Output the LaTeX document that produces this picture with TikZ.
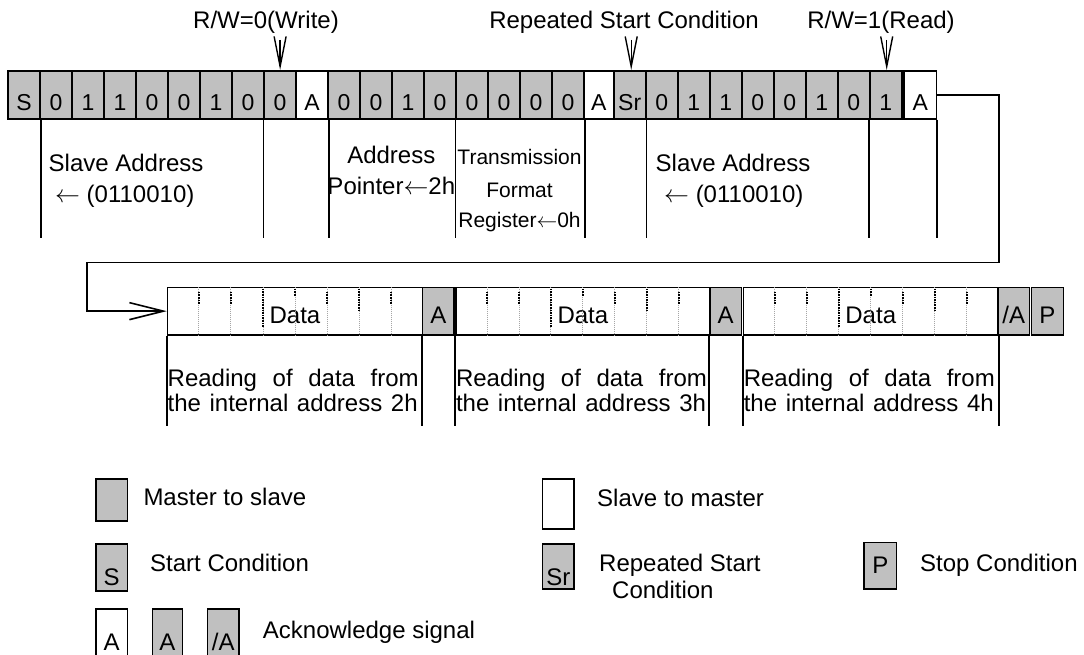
\documentclass[tikz,border=0pt]{standalone}
\usepackage{fontspec}
\setmainfont{Liberation Sans}
\usetikzlibrary{arrows.meta,calc}
\definecolor{boxgray}{RGB}{192,192,192}
\newcommand\cellfont{\fontsize{23}{26}\selectfont}
\newcommand\lblfont{\fontsize{24}{28}\selectfont}
\newcommand\smlfont{\fontsize{21}{24}\selectfont}
\newcommand\larr{$\leftarrow$}
\begin{document}
\begin{tikzpicture}[x=1pt,y=-1pt,
  cell/.style={draw, line width=1.6pt, inner sep=0pt, anchor=north west, text depth=0pt},
  rowone/.style={minimum height=48pt, text height=32pt, font=\cellfont},
  rowtwo/.style={minimum height=47.3pt, text height=25.3pt, font=\lblfont},
  lgcell/.style={cell, font=\lblfont},
  lbl/.style={inner sep=0pt, font=\lblfont},
  sml/.style={inner sep=0pt, font=\smlfont},
  sep/.style={line width=1.6pt},
  rwarrow/.style={line width=1.4pt, -{Straight Barb[length=30pt,width=12pt]}},
  conn/.style={line width=1.6pt, -{Straight Barb[length=34pt,width=17pt]}},
  divg/.style={draw=black!35, line width=0.8pt, dash pattern=on 0.8pt off 1.2pt},
  divb/.style={draw=black, line width=1.8pt, dash pattern=on 1.6pt off 1pt}
]
\useasboundingbox (0,0) rectangle (1084,655);

% ---- first row ----
\foreach \k/\xx/\w/\lab/\f in {
  0/7.3/32/S/boxgray, 1/39.3/32/0/boxgray, 2/71.3/32/1/boxgray, 3/103.3/32/1/boxgray,
  4/135.3/32/0/boxgray, 5/167.3/32/0/boxgray, 6/199.3/32/1/boxgray, 7/231.3/32/0/boxgray,
  8/263.3/32/0/boxgray, 9/295.3/32/A/white, 10/327.3/32/0/boxgray, 11/359.3/32/0/boxgray,
  12/391.3/32/1/boxgray, 13/423.3/32/0/boxgray, 14/455.3/32/0/boxgray, 15/487.3/32/0/boxgray,
  16/519.3/32/0/boxgray, 17/551.3/32/0/boxgray, 18/583.3/29.6/A/white, 19/612.9/32/Sr/boxgray,
  20/644.9/32/0/boxgray, 21/676.9/32/1/boxgray, 22/708.9/32/1/boxgray, 23/740.9/32/0/boxgray,
  24/772.9/32/0/boxgray, 25/804.9/32/1/boxgray, 26/836.9/32/0/boxgray, 27/868.9/32/1/boxgray,
  28/903.3/32.3/A/white}
  \node[cell, rowone, fill=\f, minimum width=\w pt] (b\k) at (\xx,70) {\lab};

% labels above
\node[lbl, anchor=base] (lw) at (266,29) {R/W=0(Write)};
\node[lbl, anchor=base] (lsr) at (624,29) {Repeated Start Condition};
\node[lbl, anchor=base] (lr) at (881,29) {R/W=1(Read)};
\draw[rwarrow] ([yshift=30pt]b8.north) -- (b8.north);
\draw[rwarrow] ([yshift=30pt,xshift=1.5pt]b19.north) -- ([xshift=1.5pt]b19.north);
\draw[rwarrow] ([yshift=30pt,xshift=1pt]b27.north) -- ([xshift=1pt]b27.north);

% separators below first row
\coordinate (r1b) at (0,238.3);
\foreach \a in {b0.south east, b8.south west, b9.south east, b14.south west,
                b17.south east, b19.south east, b27.south west, b28.south east}
  \draw[sep] (\a) -- (\a |- r1b);

% texts below first row
\node[lbl, anchor=base west] (sa1) at (48.5,172) {Slave Address};
\node[lbl, anchor=base west] (sa1b) at (55,203) {\larr\ (0110010)};
\node[lbl, anchor=base] (ap1) at (391.3,163.3) {Address};
\node[lbl, anchor=base] (ap2) at (391.3,195) {Pointer\larr2h};
\node[sml, anchor=base] (tf1) at (519.5,165) {Transmission};
\node[sml, anchor=base] (tf2) at (519.5,197) {Format};
\node[sml, anchor=base] (tf3) at (519.5,228) {Register\larr0h};
\node[lbl, anchor=base west] (sa2) at (655.5,172) {Slave Address};
\node[lbl, anchor=base west] (sa2b) at (664,203) {\larr\ (0110010)};

% ---- second row ----
\node[cell, rowtwo, fill=white, minimum width=255pt] (d1) at (166.7,286.7) {Data\hspace{6pt}};
\node[cell, rowtwo, fill=boxgray, minimum width=31.6pt] (a1) at (421.7,286.7) {A};
\node[cell, rowtwo, fill=white, minimum width=254.1pt] (d2) at (455,286.7) {Data\hspace{6pt}};
\node[cell, rowtwo, fill=boxgray, minimum width=31.4pt] (a2) at (709.1,286.7) {A};
\node[cell, rowtwo, fill=white, minimum width=254.3pt] (d3) at (742.8,286.7) {Data\hspace{6pt}};
\node[cell, rowtwo, fill=boxgray, minimum width=31.7pt] (na) at (997.1,286.7) {/A};
\node[cell, rowtwo, fill=boxgray, minimum width=32.3pt] (p) at (1030.5,286.7) {P};

% bit dividers inside data boxes
\foreach \d in {d1,d2,d3}{
  \foreach \i/\s/\e in {1/5/18, 2/5/18, 3/2/40, 4/2/9, 5/5/18, 6/2/24, 7/5/18}{
    \draw[divg] ($(\d.north west)!\i/8!(\d.north east)$) -- ($(\d.south west)!\i/8!(\d.south east)$);
    \draw[divb] ($(\d.north west)!\i/8!(\d.north east)+(0,\s)$) -- ($(\d.north west)!\i/8!(\d.north east)+(0,\e)$);
  }
}

% connector from first row to second row
\coordinate (t1) at (999,262.5);
\coordinate (t2) at (86.7,262.5);
\draw[conn] (b28.east) -| (t1) -- (t2) |- (d1.west);

% separators below second row
\coordinate (r2b) at (0,426);
\foreach \a in {d1.south west, a1.south west, d2.south west, a2.south west,
                d3.south west, d3.south east}
  \draw[sep] (\a) -- (\a |- r2b);

% texts below second row
\node[lbl, anchor=base west] (rd1) at (167.5,386) {\makebox[251pt][s]{Reading of data from}};
\node[lbl, anchor=base west] (rd1b) at (167.5,411) {\makebox[250pt][s]{the internal address 2h}};
\node[lbl, anchor=base west] (rd2) at (455.8,386) {\makebox[251pt][s]{Reading of data from}};
\node[lbl, anchor=base west] (rd2b) at (455.8,411) {\makebox[250pt][s]{the internal address 3h}};
\node[lbl, anchor=base west] (rd3) at (743.6,386) {\makebox[251pt][s]{Reading of data from}};
\node[lbl, anchor=base west] (rd3b) at (743.6,411) {\makebox[250pt][s]{the internal address 4h}};

% ---- legend ----
\node[lgcell, fill=boxgray, minimum width=31.7pt, minimum height=41.7pt] (lgm) at (95,478.3) {};
\node[lbl, anchor=base west] (lgmt) at (143.3,505) {Master to slave};
\node[lgcell, fill=white, minimum width=31.6pt, minimum height=50pt] (lgs) at (541.7,478.3) {};
\node[lbl, anchor=base west] (lgst) at (597,506) {Slave to master};

\node[lgcell, fill=boxgray, minimum width=31.7pt, minimum height=46.7pt, text height=36.7pt] (lgS) at (95,543.3) {S\hspace{16pt}};
\node[lbl, anchor=base west] (lgSt) at (150,571.7) {Start Condition};
\node[lgcell, fill=boxgray, minimum width=31.6pt, minimum height=45pt, text height=38.4pt] (lgSr) at (541.7,543.3) {Sr};
\node[lbl, anchor=base west] (lgSrt) at (599,571.7) {Repeated Start};
\node[lbl, anchor=base west] (lgSrt2) at (612,598.6) {Condition};
\node[lgcell, fill=boxgray, minimum width=32.4pt, minimum height=46.6pt, text height=16pt] (lgP) at (863.3,541.7) {P};
\node[lbl, anchor=base west] (lgPt) at (920,571.7) {Stop Condition};

\node[lgcell, fill=white, minimum width=31.7pt, minimum height=48.7pt, text height=34.7pt] (lgA1) at (95,608.3) {A};
\node[lgcell, fill=boxgray, minimum width=30pt, minimum height=48.7pt, text height=34.7pt] (lgA2) at (151.7,608.3) {A};
\node[lgcell, fill=boxgray, minimum width=31.6pt, minimum height=48.7pt, text height=34.7pt] (lgA3) at (206.7,608.3) {/A};
\node[lbl, anchor=base west] (lgAt) at (262.7,638) {Acknowledge signal};
\end{tikzpicture}
\end{document}
